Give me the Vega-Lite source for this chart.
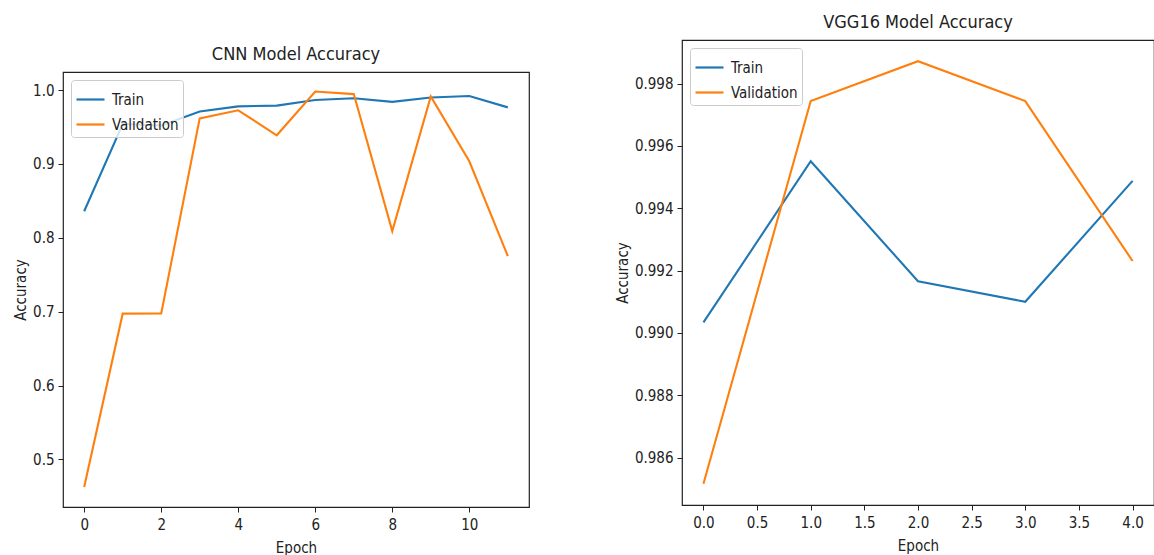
{
  "$schema": "https://vega.github.io/schema/vega-lite/v6.json",
  "padding": {"left": 12, "top": 13, "right": 0, "bottom": 0},
  "background": "white",
  "spacing": 84,
  "resolve": {"scale": {"color": "independent", "x": "independent", "y": "independent"}, "legend": {"color": "independent"}},
  "config": {
    "font": "DejaVu Sans Condensed",
    "view": {"stroke": "#222", "strokeWidth": 1.2},
    "axis": {"domain": false, "grid": false, "tickColor": "#222", "tickSize": 5, "tickWidth": 1, "labelColor": "#222", "labelFontSize": 15, "titleFontSize": 15, "titleFontWeight": "normal", "titleColor": "#222", "labelPadding": 4, "titlePadding": 4, "labelFont": "DejaVu Sans Condensed", "titleFont": "DejaVu Sans Condensed"},
    "axisX": {"labelPadding": 5, "titlePadding": 8},
    "title": {"fontSize": 18, "fontWeight": "normal", "color": "#222", "offset": 8, "font": "DejaVu Sans Condensed"},
    "legend": {"orient": "top-left", "offset": 8, "strokeColor": "#cccccc", "fillColor": "rgba(255,255,255,0.8)", "padding": 4, "cornerRadius": 3, "labelFontSize": 15, "labelColor": "#222", "labelFont": "DejaVu Sans Condensed", "symbolType": "stroke", "symbolStrokeWidth": 2.2, "symbolSize": 784, "rowPadding": 1, "labelOffset": 6, "title": null}
  },
  "datasets": {
    "acc": [
      {"model": "CNN", "series": "Train", "epoch": 0, "accuracy": 0.836},
      {"model": "CNN", "series": "Train", "epoch": 1, "accuracy": 0.954},
      {"model": "CNN", "series": "Train", "epoch": 2, "accuracy": 0.952},
      {"model": "CNN", "series": "Train", "epoch": 3, "accuracy": 0.971},
      {"model": "CNN", "series": "Train", "epoch": 4, "accuracy": 0.978},
      {"model": "CNN", "series": "Train", "epoch": 5, "accuracy": 0.979},
      {"model": "CNN", "series": "Train", "epoch": 6, "accuracy": 0.9865},
      {"model": "CNN", "series": "Train", "epoch": 7, "accuracy": 0.989},
      {"model": "CNN", "series": "Train", "epoch": 8, "accuracy": 0.984},
      {"model": "CNN", "series": "Train", "epoch": 9, "accuracy": 0.990},
      {"model": "CNN", "series": "Train", "epoch": 10, "accuracy": 0.992},
      {"model": "CNN", "series": "Train", "epoch": 11, "accuracy": 0.9766},
      {"model": "CNN", "series": "Validation", "epoch": 0, "accuracy": 0.4626},
      {"model": "CNN", "series": "Validation", "epoch": 1, "accuracy": 0.6973},
      {"model": "CNN", "series": "Validation", "epoch": 2, "accuracy": 0.6975},
      {"model": "CNN", "series": "Validation", "epoch": 3, "accuracy": 0.9617},
      {"model": "CNN", "series": "Validation", "epoch": 4, "accuracy": 0.9726},
      {"model": "CNN", "series": "Validation", "epoch": 5, "accuracy": 0.9388},
      {"model": "CNN", "series": "Validation", "epoch": 6, "accuracy": 0.998},
      {"model": "CNN", "series": "Validation", "epoch": 7, "accuracy": 0.9946},
      {"model": "CNN", "series": "Validation", "epoch": 8, "accuracy": 0.809},
      {"model": "CNN", "series": "Validation", "epoch": 9, "accuracy": 0.9915},
      {"model": "CNN", "series": "Validation", "epoch": 10, "accuracy": 0.9036},
      {"model": "CNN", "series": "Validation", "epoch": 11, "accuracy": 0.7753},
      {"model": "VGG16", "series": "Train", "epoch": 0, "accuracy": 0.99034},
      {"model": "VGG16", "series": "Train", "epoch": 1, "accuracy": 0.99551},
      {"model": "VGG16", "series": "Train", "epoch": 2, "accuracy": 0.99166},
      {"model": "VGG16", "series": "Train", "epoch": 3, "accuracy": 0.99100},
      {"model": "VGG16", "series": "Train", "epoch": 4, "accuracy": 0.99488},
      {"model": "VGG16", "series": "Validation", "epoch": 0, "accuracy": 0.98516},
      {"model": "VGG16", "series": "Validation", "epoch": 1, "accuracy": 0.99744},
      {"model": "VGG16", "series": "Validation", "epoch": 2, "accuracy": 0.99872},
      {"model": "VGG16", "series": "Validation", "epoch": 3, "accuracy": 0.99744},
      {"model": "VGG16", "series": "Validation", "epoch": 4, "accuracy": 0.99231}
    ]
  },
  "hconcat": [
    {
      "spacing": 0,
      "resolve": {"legend": {"color": "independent"}, "scale": {"color": "independent"}},
      "vconcat": [
        {
          "width": 466,
          "height": 5,
          "view": {"stroke": null},
          "data": {"values": []},
          "mark": {"type": "point", "opacity": 0},
          "encoding": {}
        },
        {
          "width": 466,
          "height": 435,
          "title": "CNN Model Accuracy",
          "data": {"name": "acc"},
          "transform": [{"filter": "datum.model === 'CNN'"}],
          "mark": {"type": "line", "strokeWidth": 2.1, "clip": true},
          "encoding": {
            "x": {"field": "epoch", "type": "quantitative", "title": "Epoch", "scale": {"domain": [-0.55, 11.55], "nice": false, "zero": false}, "axis": {"values": [0, 2, 4, 6, 8, 10], "format": "d"}},
            "y": {"field": "accuracy", "type": "quantitative", "title": "Accuracy", "scale": {"domain": [0.4355, 1.0245], "nice": false, "zero": false}, "axis": {"values": [0.5, 0.6, 0.7, 0.8, 0.9, 1.0], "format": ".1f"}},
            "color": {"field": "series", "type": "nominal", "scale": {"domain": ["Train", "Validation"], "range": ["#1f77b4", "#ff7f0e"]}}
          }
        }
      ]
    },
    {
      "resolve": {"legend": {"color": "independent"}, "scale": {"color": "independent"}},
      "vconcat": [
        {
          "width": 472,
          "height": 465,
          "title": "VGG16 Model Accuracy",
          "data": {"name": "acc"},
          "transform": [{"filter": "datum.model === 'VGG16'"}],
          "mark": {"type": "line", "strokeWidth": 2.1, "clip": true},
          "encoding": {
            "x": {"field": "epoch", "type": "quantitative", "title": "Epoch", "scale": {"domain": [-0.2, 4.2], "nice": false, "zero": false}, "axis": {"values": [0, 0.5, 1, 1.5, 2, 2.5, 3, 3.5, 4], "format": ".1f"}},
            "y": {"field": "accuracy", "type": "quantitative", "title": "Accuracy", "scale": {"domain": [0.98448, 0.9994], "nice": false, "zero": false}, "axis": {"values": [0.986, 0.988, 0.99, 0.992, 0.994, 0.996, 0.998], "format": ".3f"}},
            "color": {"field": "series", "type": "nominal", "scale": {"domain": ["Train", "Validation"], "range": ["#1f77b4", "#ff7f0e"]}}
          }
        }
      ]
    }
  ]
}
